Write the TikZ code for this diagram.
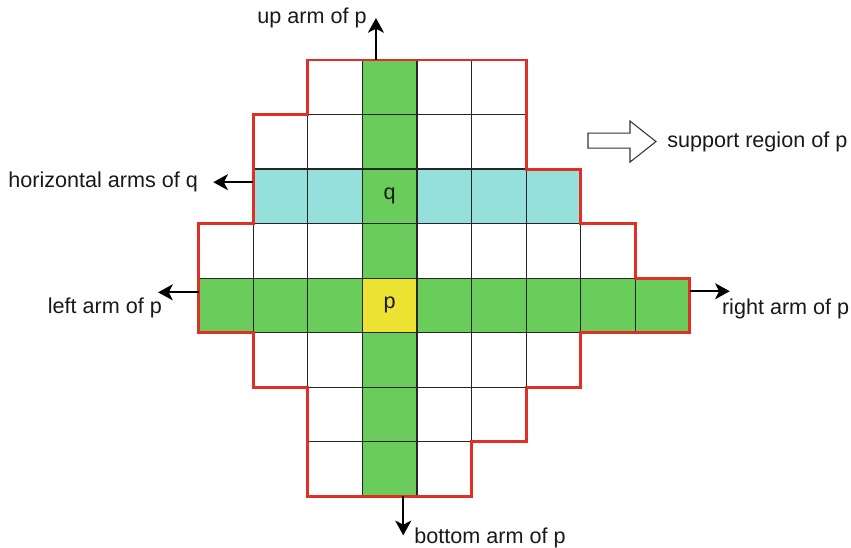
\documentclass[tikz,border=0pt]{standalone}
\usepackage{fontspec}
\setmainfont{Liberation Sans}
\usetikzlibrary{arrows.meta,positioning}
\definecolor{armgreen}{RGB}{106,204,90}
\definecolor{armcyan}{RGB}{150,224,219}
\definecolor{pyellow}{RGB}{236,227,50}
\definecolor{regred}{RGB}{224,48,37}
\tikzset{
  cellbox/.style={draw=black!85,line width=0.9pt},
  region/.style={draw=regred,line width=2.2pt,line join=miter},
  arr/.style={-{Stealth[length=11pt,width=12pt,inset=3pt]},line width=1.5pt},
  lbl/.style={font=\fontsize{16.2}{19}\selectfont,inner sep=2pt,text=black!90},
  hollow/.style={draw=black!80,fill=white,line width=0.8pt},
}

\begin{document}
\begin{tikzpicture}[x=40.95pt,y=40.9pt]
\useasboundingbox (-3.636,-0.936) rectangle (11.951,9.101);
% arms of p and of q
\fill[armgreen] (3,0) rectangle (4,8);
\fill[armgreen] (0,3) rectangle (9,4);
\fill[armcyan] (1,5) rectangle (3,6);
\fill[armcyan] (4,5) rectangle (7,6);
\fill[pyellow] (3,3) rectangle (4,4);
% cells, row by row from the bottom
\foreach \j/\a/\b in {0/2/4,1/2/5,2/1/6,3/0/8,4/0/7,5/1/6,6/1/5,7/2/5}
  \foreach \i in {\a,...,\b}
    \draw[cellbox] (\i,\j) rectangle ++(1,1);
% support region outline
\draw[region] (2,8) -- (6,8) -- (6,6) -- (7,6) -- (7,5) -- (8,5) -- (8,4)
  -- (9,4) -- (9,3) -- (7,3) -- (7,2) -- (6,2) -- (6,1) -- (5,1) -- (5,0)
  -- (2,0) -- (2,2) -- (1,2) -- (1,3) -- (0,3) -- (0,5) -- (1,5) -- (1,7)
  -- (2,7) -- cycle;
\node[lbl] (p) at (3.5,3.5) {p};
\node[lbl] (q) at (3.5,5.5) {q};
% arms
\coordinate (upS) at (3.25,8);
\coordinate (upT) at (3.25,8.77);
\coordinate (qS) at (1,5.76);
\coordinate (qT) at (0.27,5.76);
\coordinate (leftS) at (0,3.74);
\coordinate (leftT) at (-0.74,3.74);
\coordinate (rightS) at (9,3.76);
\coordinate (rightT) at (9.73,3.76);
\coordinate (botS) at (3.75,0);
\coordinate (botT) at (3.75,-0.716);
\draw[arr] (upS) -- (upT);
\draw[arr] (qS) -- (qT);
\draw[arr] (leftS) -- (leftT);
\draw[arr] (rightS) -- (rightT);
\draw[arr] (botS) -- (botT);
\node[lbl,left=4.75pt of upT] (uplbl) {up arm of p};
\node[lbl,left=9.25pt of qT] (qlbl) {horizontal arms of q};
\node[lbl,anchor=north east,xshift=5pt,yshift=-1.7pt] (leftlbl) at (leftT) {left arm of p};
\node[lbl,anchor=north west,xshift=-8pt,yshift=-3.2pt] (rightlbl) at (rightT) {right arm of p};
\node[lbl,anchor=west,xshift=6.2pt,yshift=-1.9pt] (botlbl) at (botT) {bottom arm of p};
% legend
\draw[hollow] (7.134,6.385) -- (7.903,6.385) -- (7.903,6.128) -- (8.379,6.505)
  -- (7.903,6.881) -- (7.903,6.661) -- (7.134,6.661) -- cycle;
\coordinate (supT) at (8.379,6.505);
\node[lbl,right=6.25pt of supT] (suplbl) {support region of p};
\end{tikzpicture}
\end{document}
